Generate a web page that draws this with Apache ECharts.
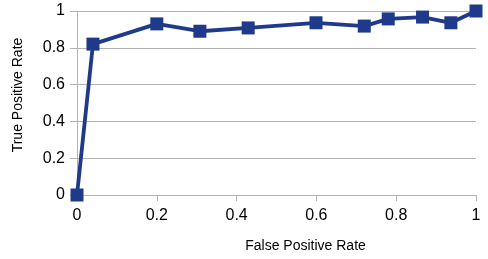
<!DOCTYPE html>
<html><head><meta charset="utf-8">
<script src="https://cdn.jsdelivr.net/npm/echarts@6/dist/echarts.min.js"></script>
<style>html,body{margin:0;padding:0;background:#fff}#c{width:488px;height:259px}</style>
</head><body><div id="c"></div>
<script>
const fpr = [0, 0.04, 0.2, 0.308, 0.429, 0.599, 0.72, 0.78, 0.866, 0.937, 1.0];
const tpr = [0, 0.82, 0.93, 0.89, 0.908, 0.936, 0.918, 0.957, 0.967, 0.936, 1.0];
const xName = 'False Positive Rate';
const yName = 'True Positive Rate';
const gray = '#b3b3b3';
const font = 'Liberation Sans, Arial, sans-serif';
const chart = echarts.init(document.getElementById('c'));
chart.setOption({
  animation: false,
  grid: {left: 77, right: 12, top: 11, bottom: 64, containLabel: false},
  xAxis: {
    type: 'value', min: 0, max: 1, interval: 0.2,
    name: xName, nameLocation: 'middle', nameGap: 44,
    nameTextStyle: {fontFamily: font, fontSize: 14, color: '#000', padding: [0, 0, 0, 58]},
    axisLine: {show: true, lineStyle: {color: gray, width: 1}},
    axisTick: {show: true, length: 6, lineStyle: {color: gray}},
    axisLabel: {fontFamily: font, fontSize: 16, color: '#000', margin: 13},
    splitLine: {show: false}
  },
  yAxis: {
    type: 'value', min: 0, max: 1, interval: 0.2,
    name: yName, nameLocation: 'middle', nameGap: 52,
    nameTextStyle: {fontFamily: font, fontSize: 14, color: '#000', padding: [0, 0, 0, 16]},
    axisLine: {show: true, lineStyle: {color: gray, width: 1}},
    axisTick: {show: true, length: 7, lineStyle: {color: gray}},
    axisLabel: {fontFamily: font, fontSize: 16, color: '#000', margin: 12},
    splitLine: {show: true, lineStyle: {color: gray, width: 1}}
  },
  series: [{
    type: 'line',
    data: fpr.map((x, i) => [x, tpr[i]]),
    symbol: 'rect', symbolSize: 13,
    lineStyle: {color: '#1f3a8a', width: 3.8},
    itemStyle: {color: '#1f3a8a'}
  }]
});
</script></body></html>
